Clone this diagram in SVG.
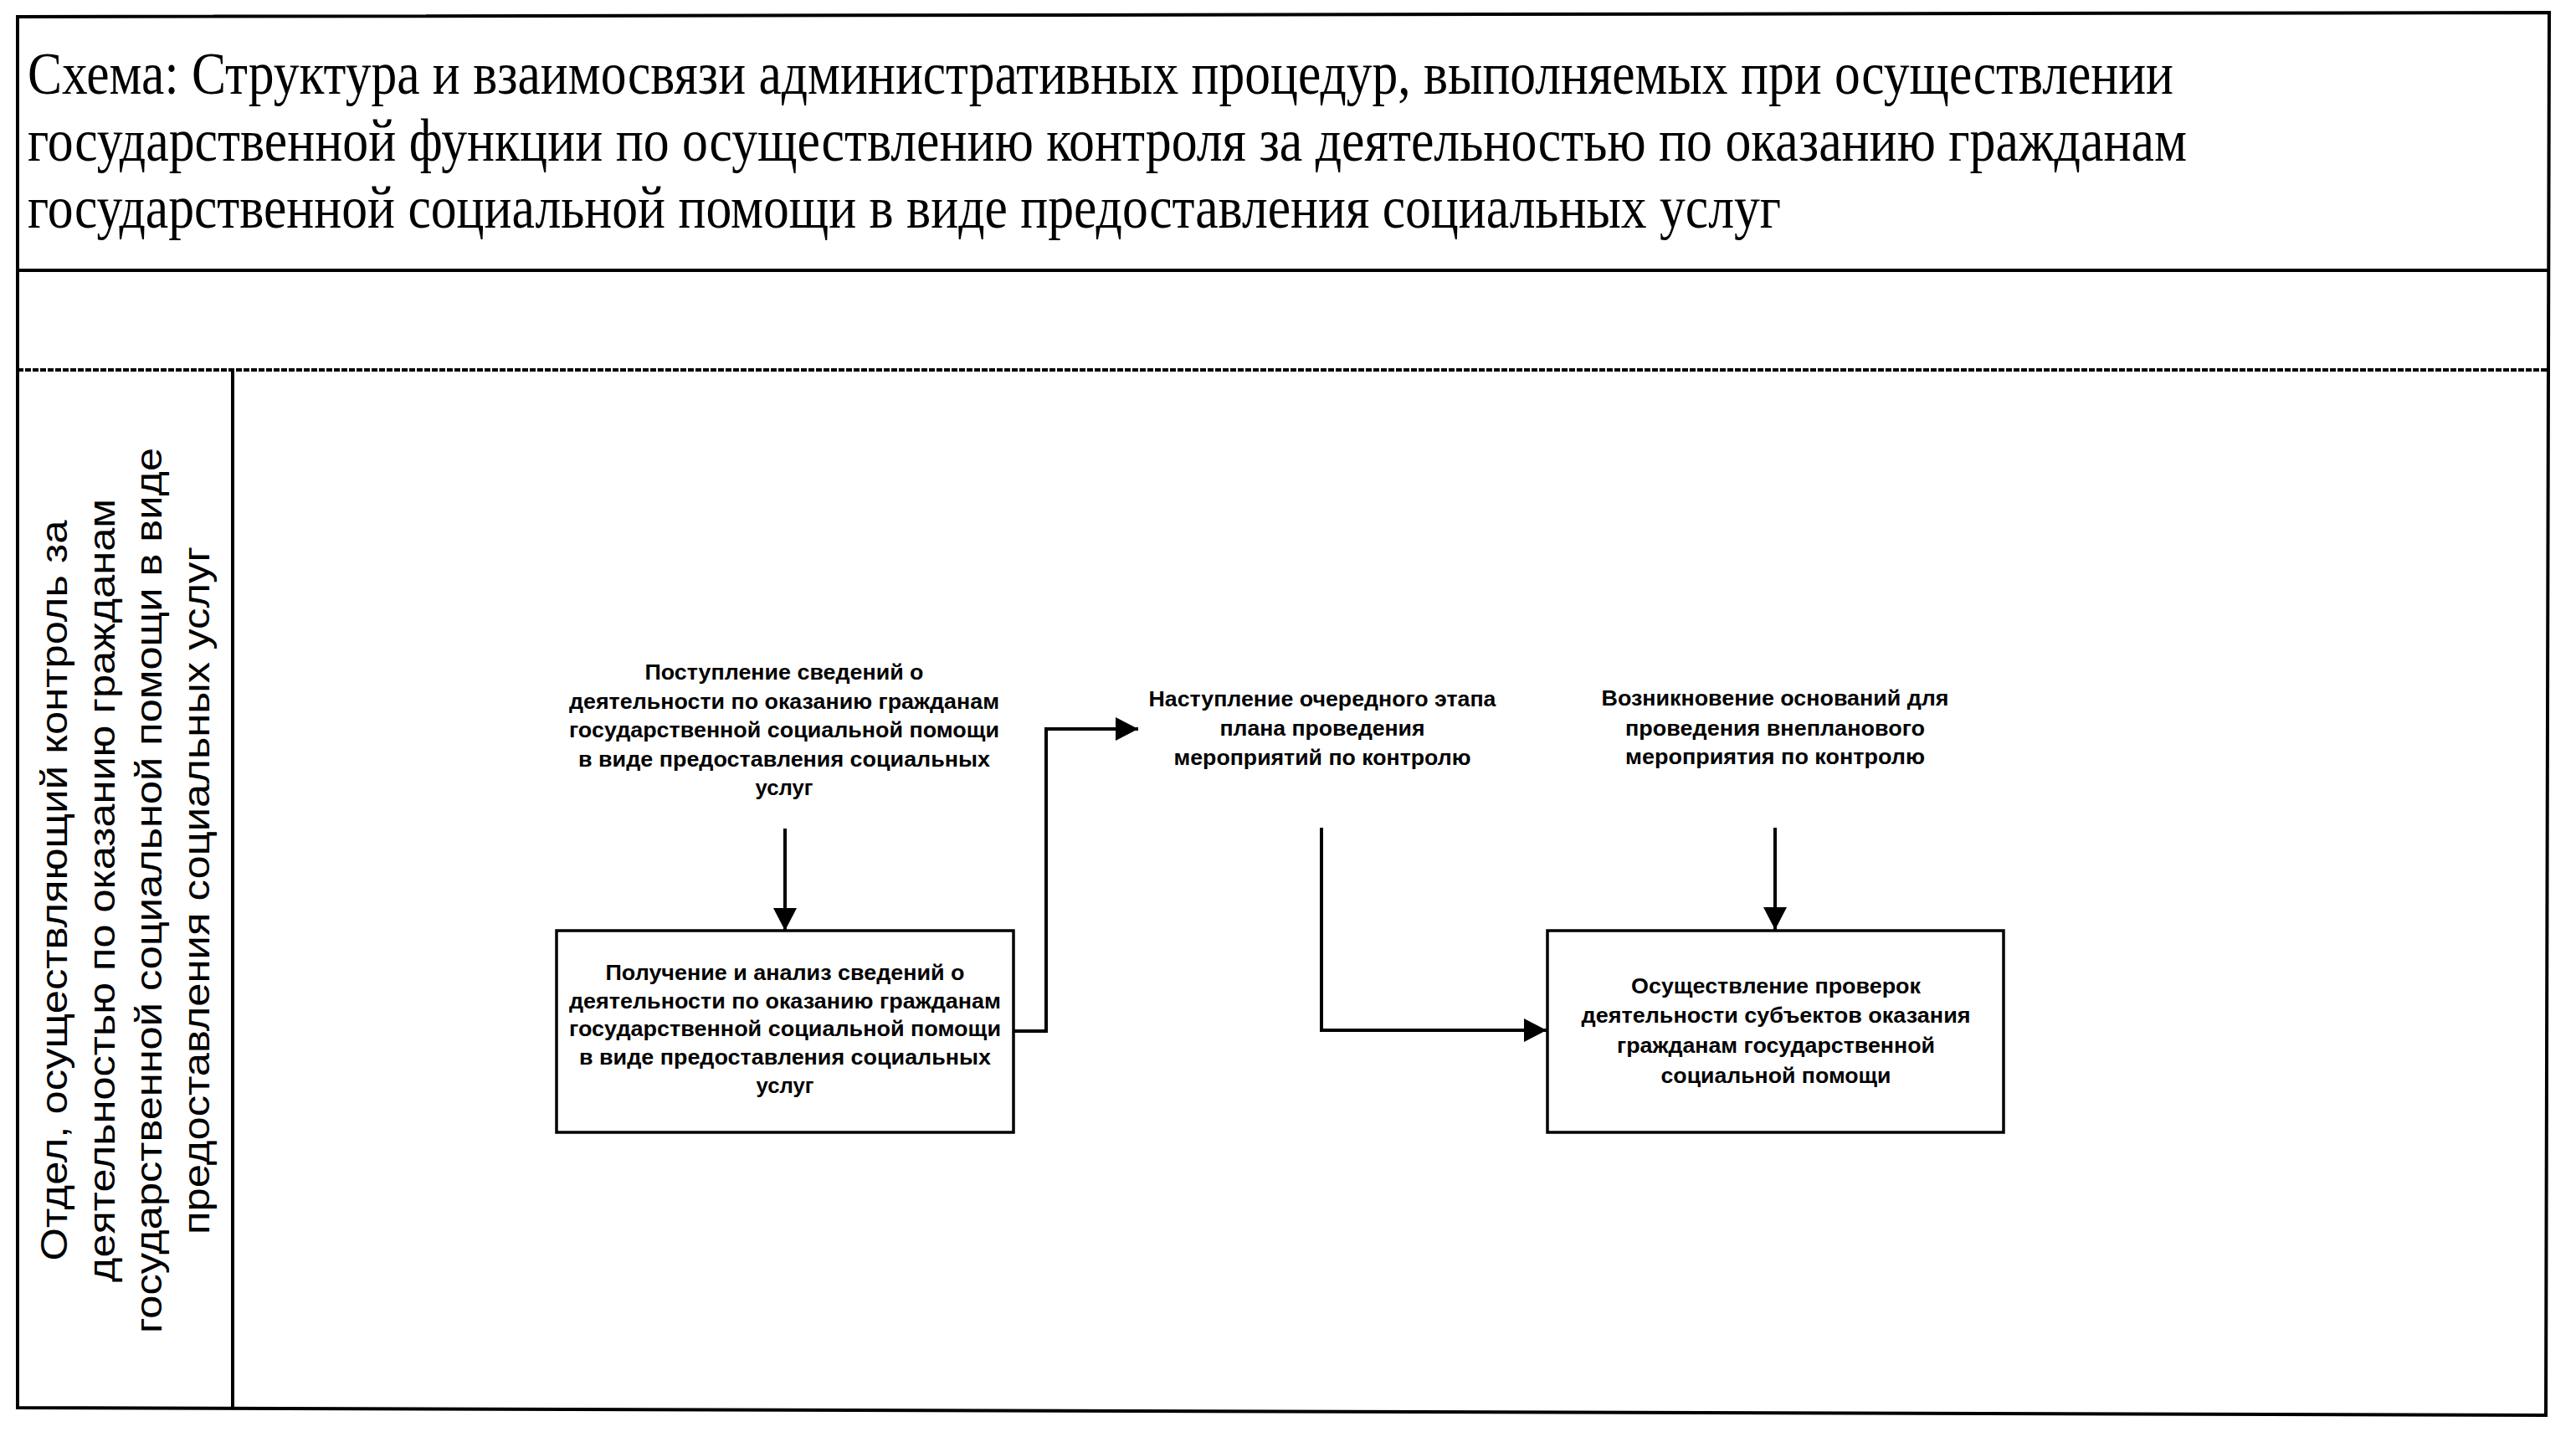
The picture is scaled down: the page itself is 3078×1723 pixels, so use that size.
<svg xmlns="http://www.w3.org/2000/svg" width="3078" height="1723" viewBox="0 0 3078 1723">
<style>
.frame{fill:none;stroke:#000;stroke-width:4}
.box{fill:#fff;stroke:#000;stroke-width:3.5}
.conn{fill:none;stroke:#000;stroke-width:4}
.title{font-family:"Liberation Serif","Times New Roman",serif;font-size:71px;fill:#000}
.lane{font-family:"Liberation Sans",Arial,sans-serif;font-size:45px;fill:#000;text-anchor:middle}
.lbl{font-family:"Liberation Sans",Arial,sans-serif;font-size:25px;font-weight:bold;fill:#000;text-anchor:middle}
</style>
<defs>
<marker id="arr" markerUnits="userSpaceOnUse" markerWidth="28" markerHeight="28" refX="27" refY="14" orient="auto">
<path d="M0,0 L27,14 L0,28 z" fill="#000"/>
</marker>
</defs>
<rect width="3078" height="1723" fill="#fff"/>
<g id="frame">
<path class="frame" d="M21,20 L3046,15 L3042,1691 L21,1682 Z"/>
<line class="frame" x1="21" y1="323" x2="3045" y2="323"/>
<line class="frame" x1="21" y1="442" x2="3045" y2="442" stroke-dasharray="7,2"/>
<line class="frame" x1="278" y1="442" x2="278" y2="1684"/>
</g>
<g id="title">
<text class="title" x="33" y="112" textLength="2564" lengthAdjust="spacingAndGlyphs">Схема: Структура и взаимосвязи административных процедур, выполняемых при осуществлении</text>
<text class="title" x="33" y="192" textLength="2580" lengthAdjust="spacingAndGlyphs">государственной функции по осуществлению контроля за деятельностью по оказанию гражданам</text>
<text class="title" x="33" y="272" textLength="2095" lengthAdjust="spacingAndGlyphs">государственной социальной помощи в виде предоставления социальных услуг</text>
</g>
<g id="lane-label">
<text class="lane" transform="translate(80,1064) rotate(-90)" textLength="885" lengthAdjust="spacingAndGlyphs">Отдел, осуществляющий контроль за</text>
<text class="lane" transform="translate(137,1064) rotate(-90)" textLength="936" lengthAdjust="spacingAndGlyphs">деятельностью по оказанию гражданам</text>
<text class="lane" transform="translate(193,1064) rotate(-90)" textLength="1058" lengthAdjust="spacingAndGlyphs">государственной социальной помощи в виде</text>
<text class="lane" transform="translate(250,1064) rotate(-90)" textLength="822" lengthAdjust="spacingAndGlyphs">предоставления социальных услуг</text>
</g>
<g id="connectors">
<line class="conn" x1="938" y1="990" x2="938" y2="1112" marker-end="url(#arr)"/>
<polyline class="conn" points="1211,1232 1250,1232 1250,871 1360,871" marker-end="url(#arr)"/>
<polyline class="conn" points="1579,989 1579,1231 1848,1231" marker-end="url(#arr)"/>
<line class="conn" x1="2121" y1="989" x2="2121" y2="1111" marker-end="url(#arr)"/>
</g>
<g id="event1">
<text class="lbl" x="937" y="812" textLength="333" lengthAdjust="spacingAndGlyphs">Поступление сведений о</text>
<text class="lbl" x="937" y="847" textLength="514" lengthAdjust="spacingAndGlyphs">деятельности по оказанию гражданам</text>
<text class="lbl" x="937" y="881" textLength="514" lengthAdjust="spacingAndGlyphs">государственной социальной помощи</text>
<text class="lbl" x="937" y="916" textLength="492" lengthAdjust="spacingAndGlyphs">в виде предоставления социальных</text>
<text class="lbl" x="937" y="950" textLength="69" lengthAdjust="spacingAndGlyphs">услуг</text>
</g>
<g id="process1">
<rect class="box" x="665" y="1112" width="546" height="241"/>
<text class="lbl" x="938" y="1171" textLength="429" lengthAdjust="spacingAndGlyphs">Получение и анализ сведений о</text>
<text class="lbl" x="938" y="1205" textLength="516" lengthAdjust="spacingAndGlyphs">деятельности по оказанию гражданам</text>
<text class="lbl" x="938" y="1238" textLength="516" lengthAdjust="spacingAndGlyphs">государственной социальной помощи</text>
<text class="lbl" x="938" y="1272" textLength="492" lengthAdjust="spacingAndGlyphs">в виде предоставления социальных</text>
<text class="lbl" x="938" y="1306" textLength="69" lengthAdjust="spacingAndGlyphs">услуг</text>
</g>
<g id="event2">
<text class="lbl" x="1580" y="844" textLength="415" lengthAdjust="spacingAndGlyphs">Наступление очередного этапа</text>
<text class="lbl" x="1580" y="879" textLength="245" lengthAdjust="spacingAndGlyphs">плана проведения</text>
<text class="lbl" x="1580" y="914" textLength="355" lengthAdjust="spacingAndGlyphs">мероприятий по контролю</text>
</g>
<g id="event3">
<text class="lbl" x="2121" y="843" textLength="415" lengthAdjust="spacingAndGlyphs">Возникновение оснований для</text>
<text class="lbl" x="2121" y="879" textLength="358" lengthAdjust="spacingAndGlyphs">проведения внепланового</text>
<text class="lbl" x="2121" y="913" textLength="358" lengthAdjust="spacingAndGlyphs">мероприятия по контролю</text>
</g>
<g id="process2">
<rect class="box" x="1849" y="1112" width="545" height="241"/>
<text class="lbl" x="2122" y="1187" textLength="346" lengthAdjust="spacingAndGlyphs">Осуществление проверок</text>
<text class="lbl" x="2122" y="1222" textLength="465" lengthAdjust="spacingAndGlyphs">деятельности субъектов оказания</text>
<text class="lbl" x="2122" y="1258" textLength="380" lengthAdjust="spacingAndGlyphs">гражданам государственной</text>
<text class="lbl" x="2122" y="1294" textLength="275" lengthAdjust="spacingAndGlyphs">социальной помощи</text>
</g>
</svg>
